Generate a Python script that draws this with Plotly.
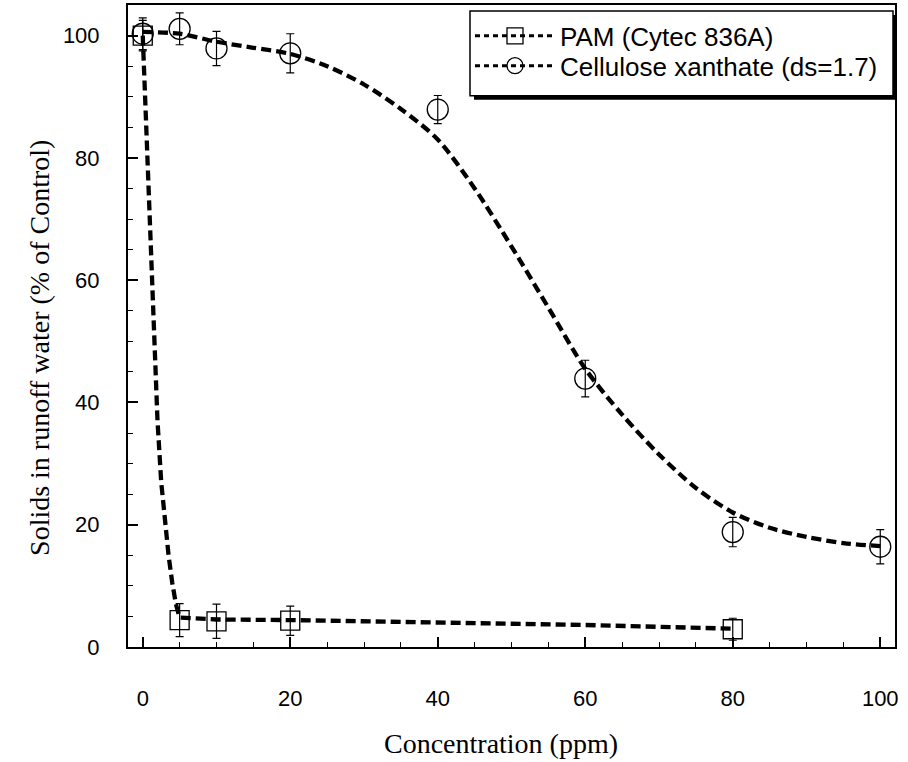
import plotly.graph_objects as go

# ---- data ----
conc_pam = [0, 5, 10, 20, 80]
pam = [100.0, 4.4, 4.2, 4.3, 2.9]
pam_err = [2.5, 2.7, 2.8, 2.4, 1.8]

conc_cx = [0, 5, 10, 20, 40, 60, 80, 100]
cx = [100.3, 101.1, 97.9, 97.1, 87.9, 43.9, 18.8, 16.4]
cx_err = [2.6, 2.6, 2.8, 3.2, 2.3, 3.0, 2.4, 2.8]

# fitted curves
fit_pam_x = [0, 0.5, 1, 1.5, 2, 2.5, 3, 3.5, 4, 4.5, 5, 10, 20, 40, 60, 80]
fit_pam_y = [100, 83, 67, 51, 37, 27, 20, 15, 10.5, 7.0, 4.8, 4.5, 4.4, 4.0, 3.6, 3.0]

fit_cx_x = [0, 5, 10, 15, 20, 25, 30, 35, 40, 45, 50, 55, 60, 65, 70, 75, 80, 85, 90, 95, 100]
fit_cx_y = [100.6, 100.3, 99.0, 98.0, 97.0, 95.0, 92.0, 88.0, 83.0, 75.0, 65.5,
            55.5, 45.5, 38.0, 31.5, 26.0, 22.0, 19.5, 18.0, 17.0, 16.5]

names = ["PAM (Cytec 836A)", "Cellulose xanthate (ds=1.7)"]
x_ticks = [0, 20, 40, 60, 80, 100]
y_ticks = [0, 20, 40, 60, 80, 100]

DASH = "10px,5px"
LW = 4.3
err_style = dict(type="data", thickness=1.2, width=4, color="black")

fig = go.Figure()

# fitted lines
fig.add_trace(go.Scatter(x=fit_pam_x, y=fit_pam_y, mode="lines", showlegend=False,
                         line=dict(color="black", width=LW, dash=DASH)))
fig.add_trace(go.Scatter(x=fit_cx_x, y=fit_cx_y, mode="lines", showlegend=False,
                         line=dict(color="black", width=LW, dash=DASH, shape="spline", smoothing=0.8)))

# data points with error bars
fig.add_trace(go.Scatter(x=conc_pam, y=pam, mode="markers", showlegend=False,
                         marker=dict(symbol="square-open", size=19, color="black", line=dict(width=1.3)),
                         error_y=dict(array=pam_err, **err_style)))
fig.add_trace(go.Scatter(x=conc_cx, y=cx, mode="markers", showlegend=False,
                         marker=dict(symbol="circle-open", size=21, color="black", line=dict(width=1.3)),
                         error_y=dict(array=cx_err, **err_style)))

# legend entries (one legend per row for exact placement)
fig.add_trace(go.Scatter(x=[None], y=[None], mode="lines+markers", name=names[0], legend="legend",
                         line=dict(color="black", width=3, dash="5px,4px"),
                         marker=dict(symbol="square-open", size=17, color="black", line=dict(width=1.3))))
fig.add_trace(go.Scatter(x=[None], y=[None], mode="lines+markers", name=names[1], legend="legend2",
                         line=dict(color="black", width=3, dash="5px,4px"),
                         marker=dict(symbol="circle-open", size=17, color="black", line=dict(width=1.3))))

L, R, T, B = 128, 895, 3, 647
W, H = 908, 762
def px(x):
    return (x - L) / (R - L)
def py(y):
    return (B - y) / (B - T)

# legend box with shadow
fig.add_shape(type="rect", xref="paper", yref="paper", layer="above",
              x0=px(474), x1=px(897), y0=py(98), y1=py(13),
              fillcolor="black", line=dict(width=0))
fig.add_shape(type="rect", xref="paper", yref="paper", layer="above",
              x0=px(470), x1=px(893), y0=py(94), y1=py(9),
              fillcolor="white", line=dict(color="black", width=1.5))

axis_common = dict(
    showline=True, linecolor="black", linewidth=2, mirror=True,
    showgrid=False, zeroline=False,
    ticks="inside", ticklen=10, tickwidth=1.5, tickcolor="black",
    tickfont=dict(family="Liberation Sans, Arial", size=22, color="black"),
)

fig.update_xaxes(range=[-2, 102], tickvals=x_ticks, ticklabelstandoff=31,
                 minor=dict(dtick=5, tick0=0, ticks="inside", ticklen=5, tickwidth=1.2, tickcolor="black"),
                 **axis_common)
fig.update_yaxes(range=[0, 105], tickvals=y_ticks, ticklabelstandoff=22,
                 minor=dict(dtick=5, tick0=0, ticks="inside", ticklen=5, tickwidth=1.2, tickcolor="black"),
                 **axis_common)

fig.add_annotation(text="Concentration (ppm)", xref="paper", yref="paper",
                   x=px(501), y=py(744), showarrow=False, xanchor="center", yanchor="middle",
                   font=dict(family="Liberation Serif, Times New Roman", size=28, color="black"))
fig.add_annotation(text="Solids in runoff water (% of Control)", xref="paper", yref="paper",
                   x=px(40), y=py(347), showarrow=False, xanchor="center", yanchor="middle",
                   textangle=-90,
                   font=dict(family="Liberation Serif, Times New Roman", size=28, color="black"))

legend_common = dict(xanchor="left", yanchor="middle", bgcolor="rgba(0,0,0,0)", borderwidth=0,
                     itemwidth=80, font=dict(family="Liberation Sans, Arial", size=26, color="black"))

fig.update_layout(
    width=W, height=H,
    margin=dict(l=L, r=W - R, t=T, b=H - B),
    paper_bgcolor="white", plot_bgcolor="white",
    showlegend=True,
    legend=dict(x=px(470), y=py(34), **legend_common),
    legend2=dict(x=px(470), y=py(64), **legend_common),
)

fig.write_html("out.html", config={"displayModeBar": False},
               post_script="document.body.style.margin='0px';")
